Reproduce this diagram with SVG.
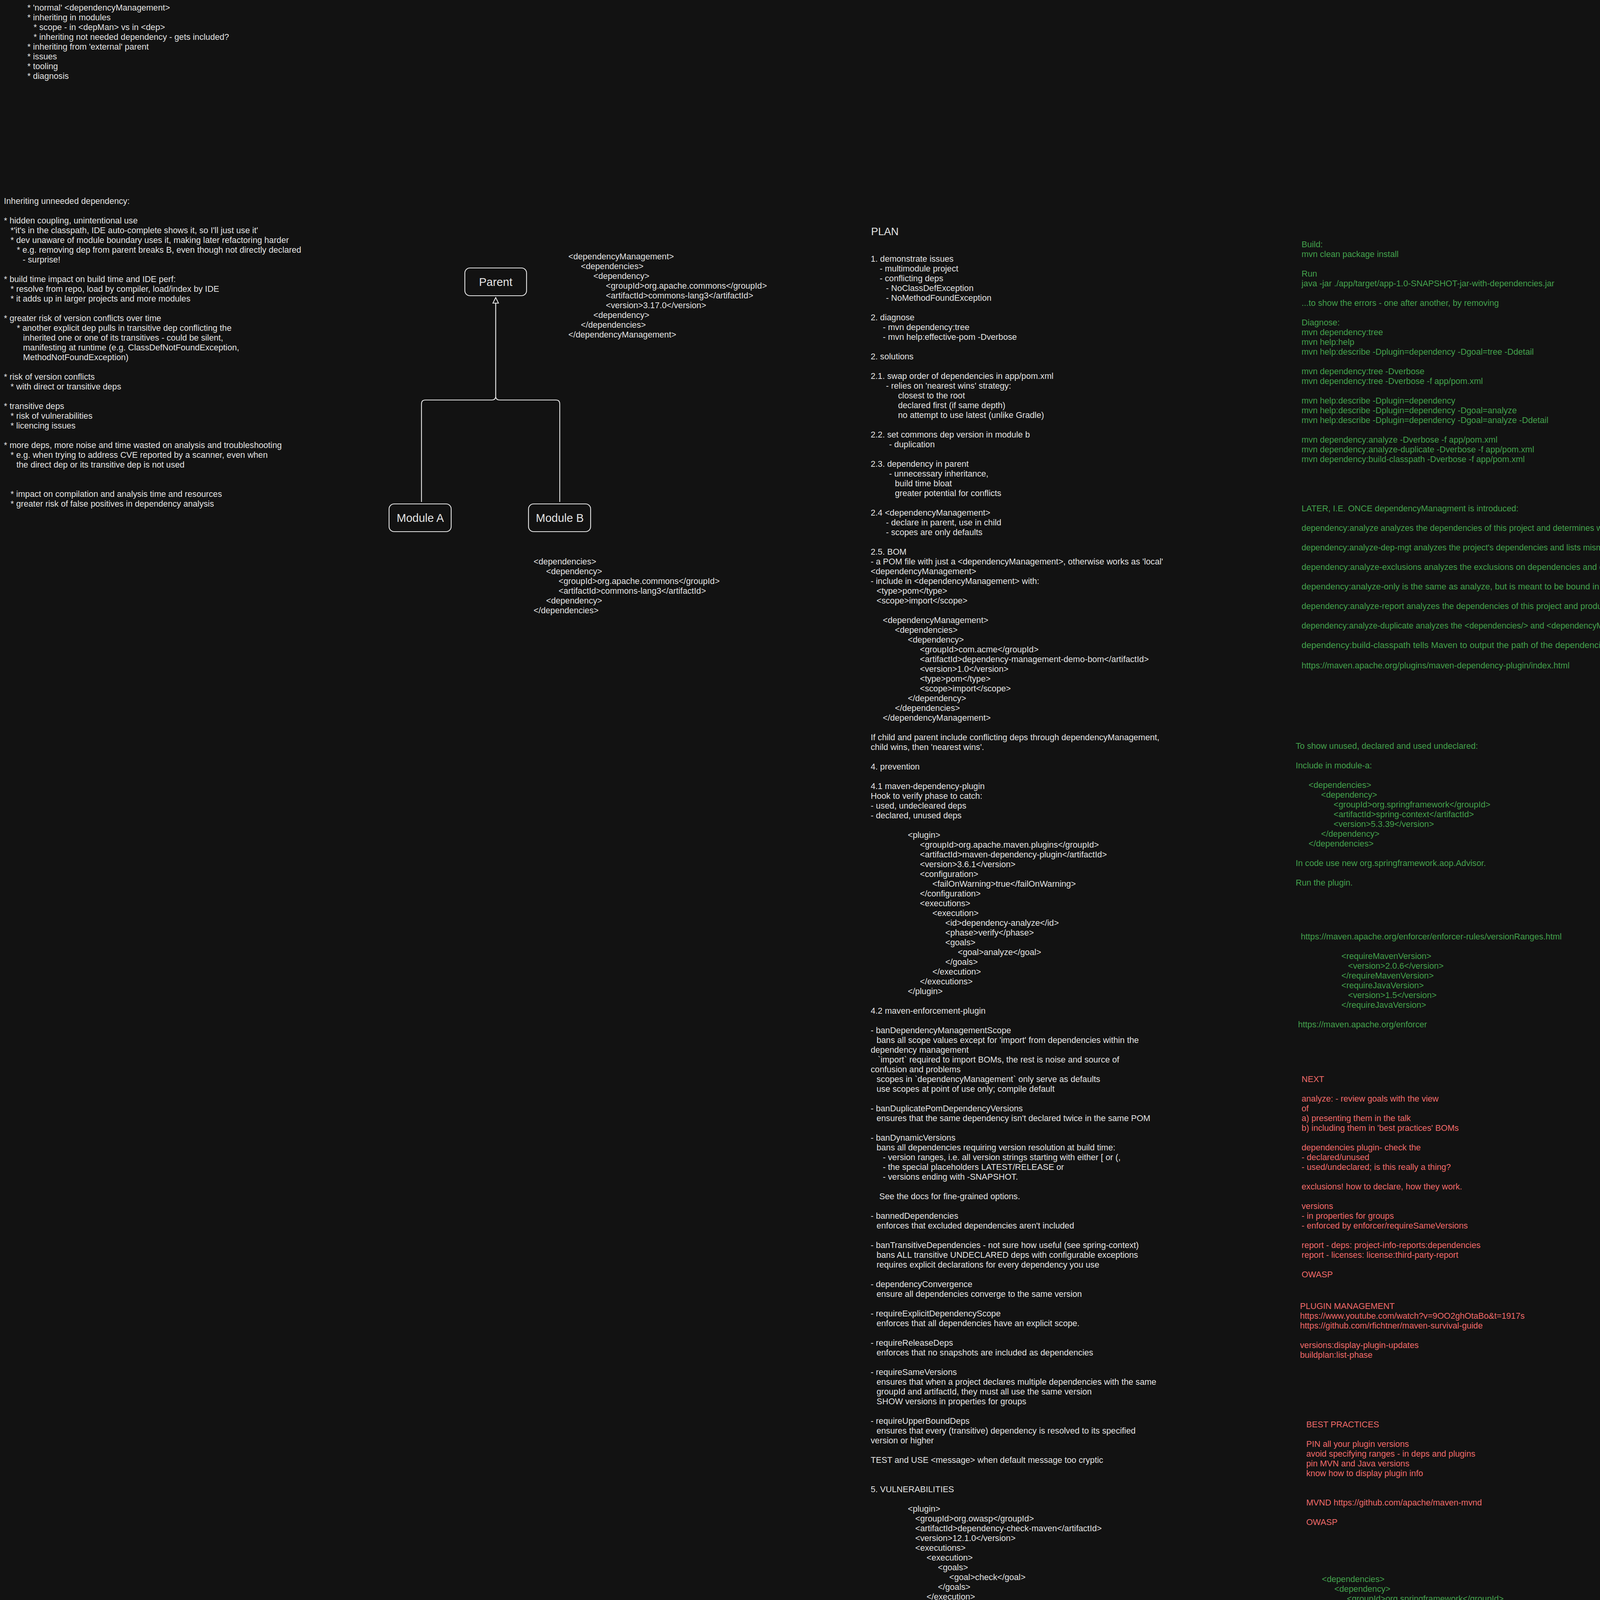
<svg xmlns="http://www.w3.org/2000/svg" width="5730" height="4911" viewBox="0 0 5730 4911">
<defs>
<style>
.t{font-family:"Liberation Sans",Arial,sans-serif;font-size:21.7px;fill:#e3e3e3}
.g{fill:#43a04c}
.r{fill:#ee6a6a}
.box{fill:#121212;stroke:#e3e3e3;stroke-width:2.2}
.lbl{font-family:"Liberation Sans",Arial,sans-serif;font-size:29px;fill:#e3e3e3;text-anchor:middle}
.conn{fill:none;stroke:#e3e3e3;stroke-width:2.2;stroke-linejoin:round}
</style>
<marker id="tri" viewBox="-2 -2 18 18" refX="14" refY="7" markerWidth="18" markerHeight="18" markerUnits="userSpaceOnUse" orient="auto">
<path d="M0,0 L14,7 L0,14 Z" fill="#121212" stroke="#e3e3e3" stroke-width="2"/>
</marker>
</defs>
<rect x="0" y="0" width="5730" height="4911" fill="#121212"/>

<g id="agenda">
<text class="t">
<tspan x="70" y="27">* 'normal' &lt;dependencyManagement&gt;</tspan>
<tspan x="70" y="52">* inheriting in modules</tspan>
<tspan x="86" y="77">* scope - in &lt;depMan&gt; vs in &lt;dep&gt;</tspan>
<tspan x="86" y="102">* inheriting not needed dependency - gets included?</tspan>
<tspan x="70" y="127">* inheriting from 'external' parent</tspan>
<tspan x="70" y="152">* issues</tspan>
<tspan x="70" y="177">* tooling</tspan>
<tspan x="70" y="202">* diagnosis</tspan>
</text>
</g>

<g id="inheriting-notes">
<text class="t">
<tspan x="10" y="522">Inheriting unneeded dependency:</tspan>
<tspan x="10" y="572">* hidden coupling, unintentional use</tspan>
<tspan x="27" y="597">*'it's in the classpath, IDE auto-complete shows it, so I'll just use it'</tspan>
<tspan x="27" y="622">* dev unaware of module boundary uses it, making later refactoring harder</tspan>
<tspan x="43" y="647">* e.g. removing dep from parent breaks B, even though not directly declared</tspan>
<tspan x="58" y="672">- surprise!</tspan>
<tspan x="10" y="722">* build time impact on build time and IDE perf:</tspan>
<tspan x="27" y="747">* resolve from repo, load by compiler, load/index by IDE</tspan>
<tspan x="27" y="772">* it adds up in larger projects and more modules</tspan>
<tspan x="10" y="822">* greater risk of version conflicts over time</tspan>
<tspan x="43" y="847">* another explicit dep pulls in transitive dep conflicting the</tspan>
<tspan x="59" y="872">inherited one or one of its transitives - could be silent,</tspan>
<tspan x="59" y="897">manifesting at runtime (e.g. ClassDefNotFoundException,</tspan>
<tspan x="59" y="922">MethodNotFoundException)</tspan>
<tspan x="10" y="972">* risk of version conflicts</tspan>
<tspan x="27" y="997">* with direct or transitive deps</tspan>
<tspan x="10" y="1047">* transitive deps</tspan>
<tspan x="27" y="1072">* risk of vulnerabilities</tspan>
<tspan x="27" y="1097">* licencing issues</tspan>
<tspan x="10" y="1147">* more deps, more noise and time wasted on analysis and troubleshooting</tspan>
<tspan x="27" y="1172">* e.g. when trying to address CVE reported by a scanner, even when</tspan>
<tspan x="42" y="1197">the direct dep or its transitive dep is not used</tspan>
<tspan x="27" y="1272">* impact on compilation and analysis time and resources</tspan>
<tspan x="27" y="1297">* greater risk of false positives in dependency analysis</tspan>
</text>
</g>

<g id="connectors">
<path class="conn" d="M1079,1285 L1079,1034 Q1079,1024 1089,1024 L1259,1024 Q1269,1024 1269,1014 L1269,762" marker-end="url(#tri)"/>
<path class="conn" d="M1433,1285 L1433,1034 Q1433,1024 1423,1024 L1279,1024 Q1269,1024 1269,1014 L1269,762" marker-end="url(#tri)"/>
</g>

<g id="parent">
<rect class="box" x="1190" y="686" width="158" height="71" rx="13"/>
<text class="lbl" x="1269" y="732">Parent</text>
</g>
<g id="module-a">
<rect class="box" x="996" y="1290" width="159" height="71" rx="13"/>
<text class="lbl" x="1076" y="1336">Module A</text>
</g>
<g id="module-b">
<rect class="box" x="1353" y="1290" width="159" height="71" rx="13"/>
<text class="lbl" x="1433" y="1336">Module B</text>
</g>

<g id="parent-pom">
<text class="t">
<tspan x="1455" y="664">&lt;dependencyManagement&gt;</tspan>
<tspan x="1487" y="689">&lt;dependencies&gt;</tspan>
<tspan x="1519" y="714">&lt;dependency&gt;</tspan>
<tspan x="1551" y="739">&lt;groupId&gt;org.apache.commons&lt;/groupId&gt;</tspan>
<tspan x="1551" y="764">&lt;artifactId&gt;commons-lang3&lt;/artifactId&gt;</tspan>
<tspan x="1551" y="789">&lt;version&gt;3.17.0&lt;/version&gt;</tspan>
<tspan x="1519" y="814">&lt;dependency&gt;</tspan>
<tspan x="1487" y="839">&lt;/dependencies&gt;</tspan>
<tspan x="1455" y="864">&lt;/dependencyManagement&gt;</tspan>
</text>
</g>

<g id="module-b-pom">
<text class="t">
<tspan x="1366" y="1445">&lt;dependencies&gt;</tspan>
<tspan x="1398" y="1470">&lt;dependency&gt;</tspan>
<tspan x="1430" y="1495">&lt;groupId&gt;org.apache.commons&lt;/groupId&gt;</tspan>
<tspan x="1430" y="1520">&lt;artifactId&gt;commons-lang3&lt;/artifactId&gt;</tspan>
<tspan x="1398" y="1545">&lt;dependency&gt;</tspan>
<tspan x="1366" y="1570">&lt;/dependencies&gt;</tspan>
</text>
</g>

<g id="plan">
<text class="t" x="2230" y="602" style="font-size:27px">PLAN</text>
<text class="t">
<tspan x="2229" y="670">1. demonstrate issues</tspan>
<tspan x="2252" y="695">- multimodule project</tspan>
<tspan x="2252" y="720">- conflicting deps</tspan>
<tspan x="2268" y="745">- NoClassDefException</tspan>
<tspan x="2268" y="770">- NoMethodFoundException</tspan>
<tspan x="2229" y="820">2. diagnose</tspan>
<tspan x="2260" y="845">- mvn dependency:tree</tspan>
<tspan x="2260" y="870">- mvn help:effective-pom -Dverbose</tspan>
<tspan x="2229" y="920">2. solutions</tspan>
<tspan x="2229" y="970">2.1. swap order of dependencies in app/pom.xml</tspan>
<tspan x="2268" y="995">- relies on 'nearest wins' strategy:</tspan>
<tspan x="2299" y="1020">closest to the root</tspan>
<tspan x="2299" y="1045">declared first (if same depth)</tspan>
<tspan x="2299" y="1070">no attempt to use latest (unlike Gradle)</tspan>
<tspan x="2229" y="1120">2.2. set commons dep version in module b</tspan>
<tspan x="2276" y="1145">- duplication</tspan>
<tspan x="2229" y="1195">2.3. dependency in parent</tspan>
<tspan x="2276" y="1220">- unnecessary inheritance,</tspan>
<tspan x="2291" y="1245">build time bloat</tspan>
<tspan x="2291" y="1270">greater potential for conflicts</tspan>
<tspan x="2229" y="1320">2.4 &lt;dependencyManagement&gt;</tspan>
<tspan x="2268" y="1345">- declare in parent, use in child</tspan>
<tspan x="2268" y="1370">- scopes are only defaults</tspan>
<tspan x="2229" y="1420">2.5. BOM</tspan>
<tspan x="2229" y="1445">- a POM file with just a &lt;dependencyManagement&gt;, otherwise works as 'local'</tspan>
<tspan x="2229" y="1470">&lt;dependencyManagement&gt;</tspan>
<tspan x="2229" y="1495">- include in &lt;dependencyManagement&gt; with:</tspan>
<tspan x="2244" y="1520">&lt;type&gt;pom&lt;/type&gt;</tspan>
<tspan x="2244" y="1545">&lt;scope&gt;import&lt;/scope&gt;</tspan>
<tspan x="2260" y="1595">&lt;dependencyManagement&gt;</tspan>
<tspan x="2291" y="1620">&lt;dependencies&gt;</tspan>
<tspan x="2324" y="1645">&lt;dependency&gt;</tspan>
<tspan x="2355" y="1670">&lt;groupId&gt;com.acme&lt;/groupId&gt;</tspan>
<tspan x="2355" y="1695">&lt;artifactId&gt;dependency-management-demo-bom&lt;/artifactId&gt;</tspan>
<tspan x="2355" y="1720">&lt;version&gt;1.0&lt;/version&gt;</tspan>
<tspan x="2355" y="1745">&lt;type&gt;pom&lt;/type&gt;</tspan>
<tspan x="2355" y="1770">&lt;scope&gt;import&lt;/scope&gt;</tspan>
<tspan x="2324" y="1795">&lt;/dependency&gt;</tspan>
<tspan x="2291" y="1820">&lt;/dependencies&gt;</tspan>
<tspan x="2260" y="1845">&lt;/dependencyManagement&gt;</tspan>
<tspan x="2229" y="1895">If child and parent include conflicting deps through dependencyManagement,</tspan>
<tspan x="2229" y="1920">child wins, then 'nearest wins'.</tspan>
<tspan x="2229" y="1970">4. prevention</tspan>
<tspan x="2229" y="2020">4.1 maven-dependency-plugin</tspan>
<tspan x="2229" y="2045">Hook to verify phase to catch:</tspan>
<tspan x="2229" y="2070">- used, undecleared deps</tspan>
<tspan x="2229" y="2095">- declared, unused deps</tspan>
<tspan x="2324" y="2145">&lt;plugin&gt;</tspan>
<tspan x="2355" y="2170">&lt;groupId&gt;org.apache.maven.plugins&lt;/groupId&gt;</tspan>
<tspan x="2355" y="2195">&lt;artifactId&gt;maven-dependency-plugin&lt;/artifactId&gt;</tspan>
<tspan x="2355" y="2220">&lt;version&gt;3.6.1&lt;/version&gt;</tspan>
<tspan x="2355" y="2245">&lt;configuration&gt;</tspan>
<tspan x="2387" y="2270">&lt;failOnWarning&gt;true&lt;/failOnWarning&gt;</tspan>
<tspan x="2355" y="2295">&lt;/configuration&gt;</tspan>
<tspan x="2355" y="2320">&lt;executions&gt;</tspan>
<tspan x="2387" y="2345">&lt;execution&gt;</tspan>
<tspan x="2420" y="2370">&lt;id&gt;dependency-analyze&lt;/id&gt;</tspan>
<tspan x="2420" y="2395">&lt;phase&gt;verify&lt;/phase&gt;</tspan>
<tspan x="2420" y="2420">&lt;goals&gt;</tspan>
<tspan x="2452" y="2445">&lt;goal&gt;analyze&lt;/goal&gt;</tspan>
<tspan x="2420" y="2470">&lt;/goals&gt;</tspan>
<tspan x="2387" y="2495">&lt;/execution&gt;</tspan>
<tspan x="2355" y="2520">&lt;/executions&gt;</tspan>
<tspan x="2324" y="2545">&lt;/plugin&gt;</tspan>
<tspan x="2229" y="2595">4.2 maven-enforcement-plugin</tspan>
<tspan x="2229" y="2645">- banDependencyManagementScope</tspan>
<tspan x="2244" y="2670">bans all scope values except for 'import' from dependencies within the</tspan>
<tspan x="2229" y="2695">dependency management</tspan>
<tspan x="2247" y="2720">`import` required to import BOMs, the rest is noise and source of</tspan>
<tspan x="2229" y="2745">confusion and problems</tspan>
<tspan x="2244" y="2770">scopes in `dependencyManagement` only serve as defaults</tspan>
<tspan x="2244" y="2795">use scopes at point of use only; compile default</tspan>
<tspan x="2229" y="2845">- banDuplicatePomDependencyVersions</tspan>
<tspan x="2244" y="2870">ensures that the same dependency isn't declared twice in the same POM</tspan>
<tspan x="2229" y="2920">- banDynamicVersions</tspan>
<tspan x="2244" y="2945">bans all dependencies requiring version resolution at build time:</tspan>
<tspan x="2260" y="2970">- version ranges, i.e. all version strings starting with either [ or (,</tspan>
<tspan x="2260" y="2995">- the special placeholders LATEST/RELEASE or</tspan>
<tspan x="2260" y="3020">- versions ending with -SNAPSHOT.</tspan>
<tspan x="2251" y="3070">See the docs for fine-grained options.</tspan>
<tspan x="2229" y="3120">- bannedDependencies</tspan>
<tspan x="2244" y="3145">enforces that excluded dependencies aren't included</tspan>
<tspan x="2229" y="3195">- banTransitiveDependencies - not sure how useful (see spring-context)</tspan>
<tspan x="2244" y="3220">bans ALL transitive UNDECLARED deps with configurable exceptions</tspan>
<tspan x="2244" y="3245">requires explicit declarations for every dependency you use</tspan>
<tspan x="2229" y="3295">- dependencyConvergence</tspan>
<tspan x="2244" y="3320">ensure all dependencies converge to the same version</tspan>
<tspan x="2229" y="3370">- requireExplicitDependencyScope</tspan>
<tspan x="2244" y="3395">enforces that all dependencies have an explicit scope.</tspan>
<tspan x="2229" y="3445">- requireReleaseDeps</tspan>
<tspan x="2244" y="3470">enforces that no snapshots are included as dependencies</tspan>
<tspan x="2229" y="3520">- requireSameVersions</tspan>
<tspan x="2244" y="3545">ensures that when a project declares multiple dependencies with the same</tspan>
<tspan x="2244" y="3570">groupId and artifactId, they must all use the same version</tspan>
<tspan x="2244" y="3595">SHOW versions in properties for groups</tspan>
<tspan x="2229" y="3645">- requireUpperBoundDeps</tspan>
<tspan x="2244" y="3670">ensures that every (transitive) dependency is resolved to its specified</tspan>
<tspan x="2229" y="3695">version or higher</tspan>
<tspan x="2229" y="3745">TEST and USE &lt;message&gt; when default message too cryptic</tspan>
<tspan x="2229" y="3820">5. VULNERABILITIES</tspan>
<tspan x="2324" y="3870">&lt;plugin&gt;</tspan>
<tspan x="2343" y="3895">&lt;groupId&gt;org.owasp&lt;/groupId&gt;</tspan>
<tspan x="2343" y="3920">&lt;artifactId&gt;dependency-check-maven&lt;/artifactId&gt;</tspan>
<tspan x="2343" y="3945">&lt;version&gt;12.1.0&lt;/version&gt;</tspan>
<tspan x="2343" y="3970">&lt;executions&gt;</tspan>
<tspan x="2372" y="3995">&lt;execution&gt;</tspan>
<tspan x="2401" y="4020">&lt;goals&gt;</tspan>
<tspan x="2430" y="4045">&lt;goal&gt;check&lt;/goal&gt;</tspan>
<tspan x="2401" y="4070">&lt;/goals&gt;</tspan>
<tspan x="2372" y="4095">&lt;/execution&gt;</tspan>
<tspan x="2343" y="4120">&lt;/executions&gt;</tspan>
<tspan x="2324" y="4145">&lt;/plugin&gt;</tspan>
<tspan x="2229" y="4220">6. LICENSES</tspan>
<tspan x="2229" y="4245">report - deps: project-info-reports:dependencies</tspan>
<tspan x="2229" y="4270">report - licenses: license:third-party-report</tspan>
<tspan x="2229" y="4345">7. DEPENDENCY UPDATES</tspan>
<tspan x="2229" y="4370">mvn versions:display-dependency-updates</tspan>
<tspan x="2229" y="4520">___________________________</tspan>
<tspan x="2229" y="4570">transitive deps, deeper tree - example:</tspan>
<tspan x="2260" y="4620">&lt;dependencies&gt;</tspan>
<tspan x="2291" y="4645">&lt;dependency&gt;</tspan>
<tspan x="2324" y="4670">&lt;groupId&gt;org.springframework&lt;/groupId&gt;</tspan>
<tspan x="2324" y="4695">&lt;artifactId&gt;spring-context&lt;/artifactId&gt;</tspan>
<tspan x="2324" y="4720">&lt;version&gt;5.3.39&lt;/version&gt;</tspan>
<tspan x="2291" y="4745">&lt;/dependency&gt;</tspan>
<tspan x="2260" y="4770">&lt;/dependencies&gt;</tspan>
</text>
</g>

<g id="build-run-diagnose">
<text class="t g">
<tspan x="3332" y="633">Build:</tspan>
<tspan x="3332" y="658">mvn clean package install</tspan>
<tspan x="3332" y="708">Run</tspan>
<tspan x="3332" y="733">java -jar ./app/target/app-1.0-SNAPSHOT-jar-with-dependencies.jar</tspan>
<tspan x="3332" y="783">...to show the errors - one after another, by removing</tspan>
<tspan x="3332" y="833">Diagnose:</tspan>
<tspan x="3332" y="858">mvn dependency:tree</tspan>
<tspan x="3332" y="883">mvn help:help</tspan>
<tspan x="3332" y="908">mvn help:describe -Dplugin=dependency -Dgoal=tree -Ddetail</tspan>
<tspan x="3332" y="958">mvn dependency:tree -Dverbose</tspan>
<tspan x="3332" y="983">mvn dependency:tree -Dverbose -f app/pom.xml</tspan>
<tspan x="3332" y="1033">mvn help:describe -Dplugin=dependency</tspan>
<tspan x="3332" y="1058">mvn help:describe -Dplugin=dependency -Dgoal=analyze</tspan>
<tspan x="3332" y="1083">mvn help:describe -Dplugin=dependency -Dgoal=analyze -Ddetail</tspan>
<tspan x="3332" y="1133">mvn dependency:analyze -Dverbose -f app/pom.xml</tspan>
<tspan x="3332" y="1158">mvn dependency:analyze-duplicate -Dverbose -f app/pom.xml</tspan>
<tspan x="3332" y="1183">mvn dependency:build-classpath -Dverbose -f app/pom.xml</tspan>
</text>
</g>

<g id="later-goals">
<text class="t g" x="3332" y="1309">LATER, I.E. ONCE dependencyManagment is introduced:</text>
<text class="t g" x="3332" y="1359" textLength="1465" lengthAdjust="spacingAndGlyphs">dependency:analyze analyzes the dependencies of this project and determines which are: used and declared; used and undeclared; unused and declared.</text>
<text class="t g" x="3332" y="1409" textLength="1698" lengthAdjust="spacingAndGlyphs">dependency:analyze-dep-mgt analyzes the project's dependencies and lists mismatches between resolved dependencies and those listed in your dependencyManagement section.</text>
<text class="t g" x="3332" y="1459" textLength="1344" lengthAdjust="spacingAndGlyphs">dependency:analyze-exclusions analyzes the exclusions on dependencies and checks if the artifact actually brings in the given dependency.</text>
<text class="t g" x="3332" y="1509" textLength="1337" lengthAdjust="spacingAndGlyphs">dependency:analyze-only is the same as analyze, but is meant to be bound in a pom. It does not fork the build and execute test-compile.</text>
<text class="t g" x="3332" y="1559" textLength="1772" lengthAdjust="spacingAndGlyphs">dependency:analyze-report analyzes the dependencies of this project and produces a report that summarises which are: used and declared; used and undeclared; unused and declared.</text>
<text class="t g" x="3332" y="1609" textLength="1596" lengthAdjust="spacingAndGlyphs">dependency:analyze-duplicate analyzes the &lt;dependencies/&gt; and &lt;dependencyManagement/&gt; tags in the pom.xml and determines the duplicate declared dependencies.</text>
<text class="t g" x="3332" y="1659" textLength="2388" lengthAdjust="spacingAndGlyphs">dependency:build-classpath tells Maven to output the path of the dependencies from the local repository in a classpath format to be used in java -cp. The classpath file may also be attached and installed/deployed along with the main artifact.</text>
<text class="t g" x="3332" y="1711">https://maven.apache.org/plugins/maven-dependency-plugin/index.html</text>
</g>

<g id="show-unused">
<text class="t g">
<tspan x="3317" y="1917">To show unused, declared and used undeclared:</tspan>
<tspan x="3317" y="1967">Include in module-a:</tspan>
<tspan x="3350" y="2017">&lt;dependencies&gt;</tspan>
<tspan x="3382" y="2042">&lt;dependency&gt;</tspan>
<tspan x="3414" y="2067">&lt;groupId&gt;org.springframework&lt;/groupId&gt;</tspan>
<tspan x="3414" y="2092">&lt;artifactId&gt;spring-context&lt;/artifactId&gt;</tspan>
<tspan x="3414" y="2117">&lt;version&gt;5.3.39&lt;/version&gt;</tspan>
<tspan x="3382" y="2142">&lt;/dependency&gt;</tspan>
<tspan x="3350" y="2167">&lt;/dependencies&gt;</tspan>
<tspan x="3317" y="2217">In code use new org.springframework.aop.Advisor.</tspan>
<tspan x="3317" y="2267">Run the plugin.</tspan>
</text>
</g>

<g id="enforcer">
<text class="t g">
<tspan x="3330" y="2405">https://maven.apache.org/enforcer/enforcer-rules/versionRanges.html</tspan>
<tspan x="3434" y="2455">&lt;requireMavenVersion&gt;</tspan>
<tspan x="3451" y="2480">&lt;version&gt;2.0.6&lt;/version&gt;</tspan>
<tspan x="3434" y="2505">&lt;/requireMavenVersion&gt;</tspan>
<tspan x="3434" y="2530">&lt;requireJavaVersion&gt;</tspan>
<tspan x="3451" y="2555">&lt;version&gt;1.5&lt;/version&gt;</tspan>
<tspan x="3434" y="2580">&lt;/requireJavaVersion&gt;</tspan>
<tspan x="3323" y="2630">https://maven.apache.org/enforcer</tspan>
</text>
</g>

<g id="next">
<text class="t r">
<tspan x="3332" y="2770">NEXT</tspan>
<tspan x="3332" y="2820">analyze: - review goals with the view</tspan>
<tspan x="3332" y="2845">of</tspan>
<tspan x="3332" y="2870">a) presenting them in the talk</tspan>
<tspan x="3332" y="2895">b) including them in 'best practices' BOMs</tspan>
<tspan x="3332" y="2945">dependencies plugin- check the</tspan>
<tspan x="3332" y="2970">- declared/unused</tspan>
<tspan x="3332" y="2995">- used/undeclared; is this really a thing?</tspan>
<tspan x="3332" y="3045">exclusions! how to declare, how they work.</tspan>
<tspan x="3332" y="3095">versions</tspan>
<tspan x="3332" y="3120">- in properties for groups</tspan>
<tspan x="3332" y="3145">- enforced by enforcer/requireSameVersions</tspan>
<tspan x="3332" y="3195">report - deps: project-info-reports:dependencies</tspan>
<tspan x="3332" y="3220">report - licenses: license:third-party-report</tspan>
<tspan x="3332" y="3270">OWASP</tspan>
</text>
</g>

<g id="plugin-management">
<text class="t r">
<tspan x="3328" y="3351">PLUGIN MANAGEMENT</tspan>
<tspan x="3328" y="3376">https://www.youtube.com/watch?v=9OO2ghOtaBo&amp;t=1917s</tspan>
<tspan x="3328" y="3401">https://github.com/rfichtner/maven-survival-guide</tspan>
<tspan x="3328" y="3451">versions:display-plugin-updates</tspan>
<tspan x="3328" y="3476">buildplan:list-phase</tspan>
</text>
</g>

<g id="best-practices">
<text class="t r">
<tspan x="3344" y="3654">BEST PRACTICES</tspan>
<tspan x="3344" y="3704">PIN all your plugin versions</tspan>
<tspan x="3344" y="3729">avoid specifying ranges - in deps and plugins</tspan>
<tspan x="3344" y="3754">pin MVN and Java versions</tspan>
<tspan x="3344" y="3779">know how to display plugin info</tspan>
<tspan x="3344" y="3854">MVND https://github.com/apache/maven-mvnd</tspan>
<tspan x="3344" y="3904">OWASP</tspan>
</text>
</g>

<g id="exclusion-example">
<text class="t g">
<tspan x="3384" y="4050">&lt;dependencies&gt;</tspan>
<tspan x="3416" y="4075">&lt;dependency&gt;</tspan>
<tspan x="3448" y="4100">&lt;groupId&gt;org.springframework&lt;/groupId&gt;</tspan>
<tspan x="3448" y="4125">&lt;artifactId&gt;spring-context&lt;/artifactId&gt;</tspan>
<tspan x="3448" y="4150">&lt;version&gt;5.3.39&lt;/version&gt;</tspan>
<tspan x="3448" y="4175">&lt;exclusions&gt;</tspan>
<tspan x="3480" y="4200">&lt;exclusion&gt;</tspan>
<tspan x="3512" y="4225">&lt;!-- good comment for 'why' --&gt;</tspan>
<tspan x="3512" y="4250">&lt;groupId&gt;org.springframework&lt;/groupId&gt;</tspan>
<tspan x="3512" y="4275">&lt;artifactId&gt;spring-core&lt;/artifactId&gt;</tspan>
<tspan x="3480" y="4300">&lt;/exclusion&gt;</tspan>
<tspan x="3448" y="4325">&lt;/exclusions&gt;</tspan>
<tspan x="3416" y="4350">&lt;/dependency&gt;</tspan>
<tspan x="3384" y="4375">&lt;/dependencies&gt;</tspan>
</text>
</g>
</svg>
